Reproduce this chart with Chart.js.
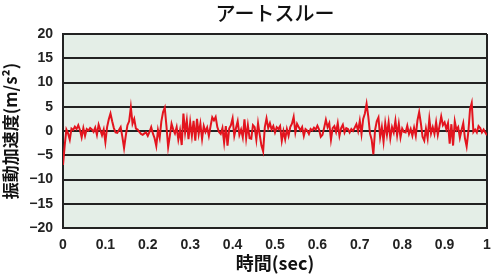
<!DOCTYPE html>
<html>
<head>
<meta charset="utf-8">
<script src="https://cdn.jsdelivr.net/npm/chart.js@4/dist/chart.umd.min.js"></script>
<style>
html,body{margin:0;padding:0;background:#fff;}
#wrap{width:500px;height:279px;position:relative;}
</style>
</head>
<body>
<div id="wrap"><canvas id="c" width="500" height="279"></canvas></div>
<script>
const chartTitle = 'アートスルー';
const xAxisTitle = '時間(sec)';
const yAxisTitle = '振動加速度(m/s²)';
const xTickLabels = ['0','0.1','0.2','0.3','0.4','0.5','0.6','0.7','0.8','0.9','1'];
const yTickLabels = {'20':'20','15':'15','10':'10','5':'5','0':'0','-5':'−5','-10':'−10','-15':'−15','-20':'−20'};
const sampleStep = 0.004; // seconds between samples
const acceleration = [
 -7.0,-3.0,0.3,-0.5,-1.8,0.5,0.2,0.9,0.4,1.2,
 0.2,-1.3,0.6,-1.0,0.4,0.1,0.6,0.3,-0.2,0.7,
 -0.8,1.3,0.2,-0.9,0.3,-2.3,0.8,2.4,3.6,2.0,
 0.6,-0.3,-0.4,0.2,0.8,-1.2,-3.5,-1.0,1.2,2.0,
 4.9,1.5,2.5,0.5,0.3,-0.2,-0.6,-0.8,-0.5,-0.3,
 -1.0,-0.2,0.8,-0.5,-1.5,-3.1,0.2,-1.4,2.0,3.9,
 4.8,1.0,-3.3,-1.0,1.5,0.3,-0.5,0.8,-1.8,0.1,
 -2.9,3.6,-0.3,2.2,-1.7,1.8,-1.0,2.1,-2.0,2.5,
 -0.6,1.5,-1.6,1.0,-0.2,0.7,-1.0,1.0,2.8,2.2,
 2.9,0.8,-0.2,-0.6,0.6,-2.4,1.0,-3.0,0.5,1.2,
 2.6,-1.0,0.6,2.0,-0.8,0.3,-1.3,2.4,-1.5,1.2,
 -1.5,-1.6,1.2,0.8,-1.8,1.6,-0.8,-3.0,-4.2,0.8,
 2.6,0.6,1.6,0.3,1.0,-0.3,0.8,0.4,1.0,-2.0,
 0.0,-1.7,0.4,-1.0,0.8,1.5,2.9,-0.3,1.5,0.8,
 0.1,0.8,-1.0,0.4,0.1,-0.6,0.4,0.1,0.7,0.3,
 1.1,0.3,-1.2,-0.8,0.7,2.3,0.8,1.6,-1.8,0.6,
 1.0,-0.2,1.6,-1.0,0.6,1.3,-0.3,0.6,0.4,-0.3,
 0.4,0.0,0.7,1.4,0.0,2.1,-0.6,2.5,3.6,5.6,
 3.0,-0.5,-1.8,-4.8,0.2,2.0,2.8,-1.3,0.8,-2.2,
 1.6,-0.8,1.8,-1.5,0.8,-0.3,2.1,-0.9,1.5,-1.3,
 0.5,-0.2,-0.3,1.1,-0.6,0.4,-1.0,0.7,-1.0,2.2,
 3.9,1.6,-1.2,-2.0,0.5,-1.5,2.5,-0.5,0.8,-0.6,
 1.8,-0.8,1.0,3.0,1.2,1.8,0.4,1.6,-2.6,1.4,
 -3.0,2.0,0.2,0.8,-1.4,0.2,1.6,-1.5,-3.2,-0.2,
 4.5,5.8,-0.2,0.3,-0.3,1.0,0.6,-0.3,0.3,-0.3,
 -0.9
];
const points = acceleration.map((v, i) => ({x: i * sampleStep, y: v}));

const areaBg = {
  id: 'areaBg',
  beforeDraw(chart) {
    const a = chart.chartArea, ctx = chart.ctx;
    ctx.save();
    ctx.fillStyle = '#e4eee7';
    ctx.fillRect(a.left, a.top, a.right - a.left, a.bottom - a.top);
    ctx.restore();
  }
};

const font = "'Liberation Sans', Arial, 'Noto Sans CJK JP', sans-serif";

new Chart(document.getElementById('c'), {
  type: 'line',
  data: {
    datasets: [{
      data: points,
      borderColor: '#e3141e',
      borderWidth: 2,
      pointRadius: 0,
      tension: 0,
      fill: false
    }]
  },
  options: {
    responsive: false,
    animation: false,
    layout: {padding: {left: 0, right: 13, top: 0, bottom: 0}},
    plugins: {
      legend: {display: false},
      tooltip: {enabled: false},
      title: {
        display: true,
        text: chartTitle,
        fullSize: false,
        color: '#111',
        font: {family: "'Noto Sans CJK JP', sans-serif", size: 20, weight: '500'},
        padding: {top: 1, bottom: 9}
      }
    },
    scales: {
      x: {
        type: 'linear',
        min: 0, max: 1,
        afterFit(s) { s.height = 51; },
        ticks: {
          stepSize: 0.1,
          autoSkip: false,
          maxRotation: 0,
          padding: 9,
          color: '#222',
          font: {family: font, size: 14, weight: 'bold'},
          callback: (v, i) => xTickLabels[i]
        },
        grid: {
          drawTicks: false,
          lineWidth: 2,
          color: ctx => (ctx.tick && ctx.tick.value === 1) ? '#222' : 'rgba(0,0,0,0)'
        },
        border: {display: true, color: '#222', width: 2},
        title: {
          display: true,
          text: xAxisTitle,
          color: '#111',
          font: {family: "'Noto Sans CJK JP', sans-serif", size: 18, weight: 'bold'},
          padding: {top: 0, bottom: 5}
        }
      },
      y: {
        min: -20, max: 20,
        afterFit(s) { s.width = 63; },
        ticks: {
          stepSize: 5,
          padding: 10,
          color: '#222',
          font: {family: font, size: 14, weight: 'bold'},
          callback: v => yTickLabels[String(v)]
        },
        grid: {drawTicks: false, color: '#222', lineWidth: 2},
        border: {display: true, color: '#222', width: 2},
        title: {
          display: true,
          text: yAxisTitle,
          color: '#111',
          font: {family: "'Noto Sans CJK JP', sans-serif", size: 17, weight: 'bold'},
          padding: {top: 0, bottom: 2}
        }
      }
    }
  },
  plugins: [areaBg]
});
</script>
</body>
</html>
